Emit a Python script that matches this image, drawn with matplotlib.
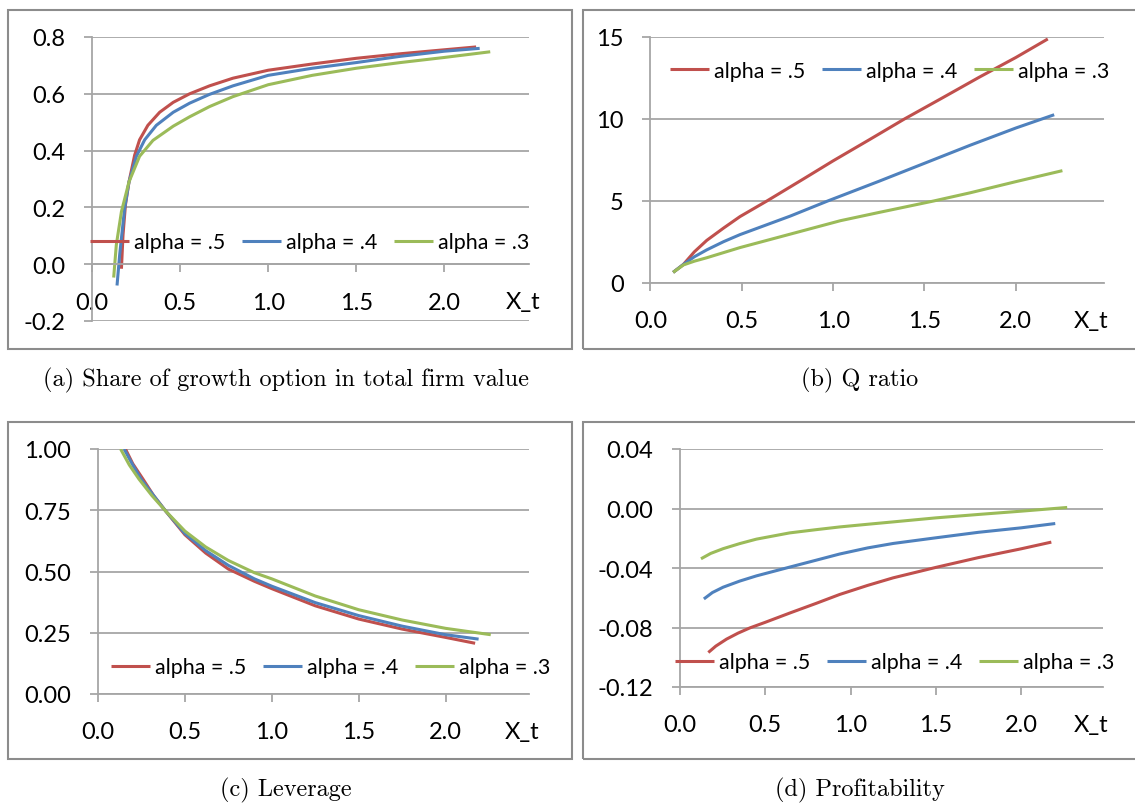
import matplotlib
matplotlib.use("Agg")
import matplotlib.pyplot as plt
from matplotlib.patches import Rectangle
from matplotlib.ticker import FormatStrFormatter

plt.rcParams['font.family'] = ['Lato', 'DejaVu Sans']
plt.rcParams['axes.unicode_minus'] = False

RED = '#C0504D'
BLUE = '#4F81BD'
GREEN = '#9BBB59'
GRID = '#A6A6A6'

labels = ['alpha = .5', 'alpha = .4', 'alpha = .3']

# (a) share of growth option in total firm value
share_x_5 = [0.167, 0.176, 0.19, 0.21, 0.242, 0.27, 0.317, 0.384, 0.461, 0.554, 0.667, 0.8, 1.0, 1.25, 1.5, 1.75, 2.0, 2.18]
share_y_5 = [-0.016, 0.103, 0.21, 0.29, 0.384, 0.438, 0.489, 0.535, 0.57, 0.6, 0.628, 0.655, 0.683, 0.705, 0.725, 0.741, 0.755, 0.765]
share_x_4 = [0.142, 0.157, 0.185, 0.21, 0.252, 0.299, 0.365, 0.461, 0.554, 0.667, 0.8, 1.0, 1.25, 1.5, 1.75, 2.0, 2.2]
share_y_4 = [-0.075, 0.033, 0.196, 0.29, 0.38, 0.438, 0.489, 0.535, 0.567, 0.598, 0.628, 0.665, 0.69, 0.71, 0.732, 0.75, 0.76]
share_x_3 = [0.123, 0.138, 0.167, 0.21, 0.27, 0.346, 0.461, 0.554, 0.667, 0.8, 1.0, 1.25, 1.5, 1.75, 2.0, 2.26]
share_y_3 = [-0.047, 0.068, 0.185, 0.29, 0.38, 0.436, 0.486, 0.519, 0.555, 0.59, 0.632, 0.665, 0.69, 0.71, 0.728, 0.748]

# (b) Q ratio
q_x_5 = [0.124, 0.18, 0.24, 0.308, 0.4, 0.49, 0.637, 0.838, 1.0, 1.2, 1.39, 1.6, 1.8, 2.0, 2.175]
q_y_5 = [0.65, 1.13, 1.9, 2.6, 3.35, 4.05, 5.0, 6.35, 7.45, 8.75, 10.0, 11.3, 12.55, 13.75, 14.88]
q_x_4 = [0.124, 0.18, 0.24, 0.308, 0.4, 0.49, 0.765, 0.97, 1.25, 1.5, 1.75, 2.0, 2.21]
q_y_4 = [0.65, 1.13, 1.6, 2.02, 2.52, 2.95, 4.08, 5.0, 6.2, 7.3, 8.4, 9.45, 10.26]
q_x_3 = [0.124, 0.18, 0.24, 0.308, 0.49, 0.765, 1.04, 1.25, 1.55, 1.75, 2.0, 2.255]
q_y_3 = [0.65, 1.1, 1.33, 1.54, 2.16, 2.98, 3.8, 4.3, 5.0, 5.5, 6.18, 6.85]

# (c) leverage
lev_x_5 = [0.158, 0.2, 0.259, 0.32, 0.389, 0.5, 0.62, 0.75, 0.9, 1.0, 1.25, 1.5, 1.75, 2.0, 2.17]
lev_y_5 = [1.0, 0.94, 0.877, 0.81, 0.747, 0.65, 0.575, 0.51, 0.46, 0.43, 0.36, 0.306, 0.265, 0.231, 0.207]
lev_x_4 = [0.15, 0.2, 0.25, 0.32, 0.389, 0.5, 0.62, 0.75, 0.9, 1.0, 1.25, 1.5, 1.75, 2.0, 2.19]
lev_y_4 = [1.0, 0.935, 0.875, 0.81, 0.747, 0.655, 0.585, 0.525, 0.47, 0.44, 0.373, 0.32, 0.277, 0.242, 0.224]
lev_x_3 = [0.13, 0.18, 0.236, 0.31, 0.389, 0.5, 0.62, 0.75, 0.9, 1.0, 1.25, 1.5, 1.75, 2.0, 2.26]
lev_y_3 = [1.0, 0.935, 0.877, 0.81, 0.747, 0.665, 0.6, 0.545, 0.495, 0.47, 0.4, 0.344, 0.302, 0.268, 0.242]

# (d) profitability
prof_x_5 = [0.166, 0.21, 0.273, 0.34, 0.409, 0.5, 0.643, 0.8, 0.936, 1.1, 1.25, 1.5, 1.75, 2.0, 2.177]
prof_y_5 = [-0.0968, -0.0925, -0.0878, -0.0838, -0.0803, -0.0765, -0.0703, -0.0637, -0.0578, -0.0517, -0.0466, -0.0396, -0.033, -0.0271, -0.0226]
prof_x_4 = [0.14, 0.19, 0.253, 0.35, 0.448, 0.643, 0.8, 0.936, 1.1, 1.25, 1.5, 1.75, 2.0, 2.2]
prof_y_4 = [-0.0608, -0.0565, -0.0529, -0.0488, -0.0453, -0.0394, -0.0347, -0.0306, -0.0265, -0.0235, -0.0197, -0.016, -0.013, -0.0101]
prof_x_3 = [0.123, 0.18, 0.253, 0.35, 0.448, 0.643, 0.8, 0.936, 1.1, 1.25, 1.5, 1.75, 2.0, 2.27]
prof_y_3 = [-0.0338, -0.0302, -0.027, -0.0236, -0.0206, -0.0164, -0.0142, -0.0124, -0.0106, -0.009, -0.0063, -0.004, -0.0018, 0.0007]

x_ticks = [0.0, 0.5, 1.0, 1.5, 2.0]

panels = [
    dict(rect=[92, 38, 437, 284], ylim=(-0.2, 0.8), yticks=[-0.2, 0.0, 0.2, 0.4, 0.6, 0.8], fmt='%.1f',
         xaxis_at=0.0, series=[(share_x_5, share_y_5), (share_x_4, share_y_4), (share_x_3, share_y_3)],
         leg=(-0.005, 0.278), xt=2.447, box=[8, 11, 564, 339],
         caption='(a) Share of growth option in total firm value', cap=(286, 380)),
    dict(rect=[650.5, 38, 453, 246], ylim=(0, 15), yticks=[0, 5, 10, 15], fmt='%d',
         xaxis_at=0, series=[(q_x_5, q_y_5), (q_x_4, q_y_4), (q_x_3, q_y_3)],
         leg=(0.043, 0.862), xt=2.41, box=[583, 11, 560, 339],
         caption='(b) Q ratio', cap=(860, 380)),
    dict(rect=[98, 450, 431, 245], ylim=(0, 1.0), yticks=[0, 0.25, 0.5, 0.75, 1.0], fmt='%.2f',
         xaxis_at=0, series=[(lev_x_5, lev_y_5), (lev_x_4, lev_y_4), (lev_x_3, lev_y_3)],
         leg=(0.03, 0.11), xt=2.44, box=[8, 423, 564, 337],
         caption='(c) Leverage', cap=(286, 790)),
    dict(rect=[680, 450, 423, 238], ylim=(-0.12, 0.04), yticks=[-0.12, -0.08, -0.04, 0.0, 0.04], fmt='%.2f',
         xaxis_at=-0.12, series=[(prof_x_5, prof_y_5), (prof_x_4, prof_y_4), (prof_x_3, prof_y_3)],
         leg=(-0.012, 0.105), xt=2.41, box=[583, 423, 560, 337],
         caption='(d) Profitability', cap=(860, 790)),
]

W, H = 1135, 804
fig = plt.figure(figsize=(W / 100, H / 100), dpi=100)

for p in panels:
    bx, by, bw, bh = p['box']
    fig.add_artist(Rectangle((bx / W, 1 - (by + bh) / H), bw / W, bh / H, transform=fig.transFigure,
                             fill=False, edgecolor='#8C8C8C', linewidth=1.5))
    fig.text(p['cap'][0] / W, 1 - p['cap'][1] / H, p['caption'], family='cmr10', fontsize=17.5,
             ha='center', va='center')

    l, t, w, h = p['rect']
    ax = fig.add_axes([l / W, 1 - (t + h) / H, w / W, h / H])
    lines = []
    for (xs, ys), c, lab in zip(p['series'], [RED, BLUE, GREEN], labels):
        ln, = ax.plot(xs, ys, color=c, lw=2.2, label=lab, solid_capstyle='butt',
                      solid_joinstyle='round')
        lines.append(ln)
    ax.set_xlim(0, 2.48)
    ax.set_ylim(*p['ylim'])
    ax.set_xticks(x_ticks)
    ax.set_yticks(p['yticks'])
    ax.xaxis.set_major_formatter(FormatStrFormatter('%.1f'))
    ax.yaxis.set_major_formatter(FormatStrFormatter(p['fmt']))
    ax.grid(axis='y', color=GRID, lw=1.3)
    ax.set_axisbelow(True)
    for s in ['top', 'right']:
        ax.spines[s].set_visible(False)
    ax.spines['left'].set_color(GRID)
    ax.spines['left'].set_linewidth(1.3)
    ax.spines['bottom'].set_color(GRID)
    ax.spines['bottom'].set_linewidth(1.3)
    ax.spines['bottom'].set_position(('data', p['xaxis_at']))
    ax.tick_params(axis='both', direction='out', length=5.8, width=1.3, color=GRID,
                   labelsize=17, labelcolor='black')
    ax.tick_params(axis='x', pad=14)
    ax.tick_params(axis='y', pad=13.5)
    ax.annotate('X_t', xy=(p['xt'], p['xaxis_at']), xycoords='data', xytext=(0, -27),
                textcoords='offset points', ha='center', va='center', fontsize=17)
    ax.legend(handles=lines, loc='center left', bbox_to_anchor=p['leg'], ncol=3, frameon=False,
              fontsize=15.4, handlelength=1.82, handletextpad=0.23, columnspacing=0.8,
              borderpad=0, borderaxespad=0)

fig.savefig('out.png', dpi=100)
